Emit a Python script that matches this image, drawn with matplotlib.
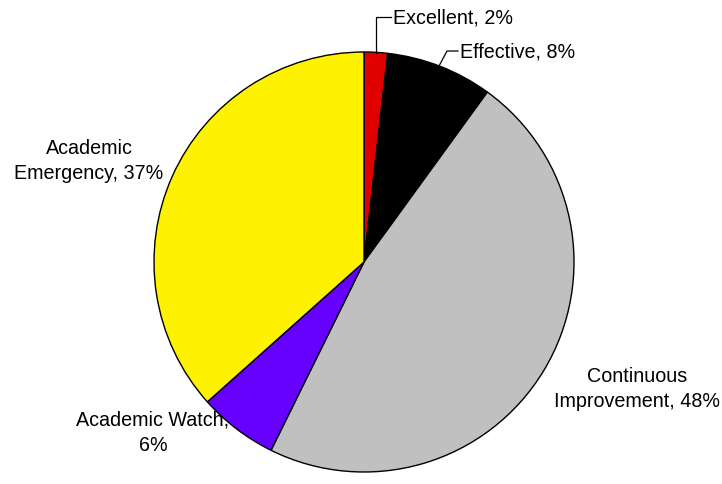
import matplotlib.pyplot as plt

labels = ["Excellent, 2%", "Effective, 8%", "Continuous\nImprovement, 48%",
          "Academic Watch,\n6%", "Academic\nEmergency, 37%"]
values = [1.8, 8.2, 47.3, 6.1, 36.6]
colors = ["#E00000", "#000000", "#C0C0C0", "#6600FF", "#FFF200"]

plt.rcParams["font.family"] = ["Liberation Sans", "DejaVu Sans"]

W, H = 722, 484
cx, cy, R = 364, 262, 210


def px(x, y):
    # pixel position -> data units (pie radius = 1)
    return (x - cx) / R, (cy - y) / R


fig = plt.figure(figsize=(W / 100, H / 100), dpi=100)
ax = fig.add_axes([0, 0, 1, 1])
ax.pie(values, colors=colors, startangle=90, counterclock=False, radius=1,
       wedgeprops=dict(edgecolor="black", linewidth=1))
ax.set_xlim(-cx / R, (W - cx) / R)
ax.set_ylim(-(H - cy) / R, cy / R)
ax.axis("off")

fs = 14.2
# leader lines for the two small slices
x0, y0 = px(376, 53)
x1, y1 = px(376, 17)
x2, y2 = px(391, 17)
ax.plot([x0, x1, x2], [y0, y1, y2], color="black", lw=0.9)
ax.text(*px(393, 18), labels[0], fontsize=fs, ha="left", va="center")

x0, y0 = px(439, 66)
x1, y1 = px(447, 51)
x2, y2 = px(458, 51)
ax.plot([x0, x1, x2], [y0, y1, y2], color="black", lw=0.9)
ax.text(*px(460, 52), labels[1], fontsize=fs, ha="left", va="center")

ax.text(*px(637, 389), labels[2], fontsize=fs, ha="center", va="center",
        linespacing=1.4)
ax.text(*px(153, 433), labels[3], fontsize=fs, ha="center", va="center",
        linespacing=1.4)
ax.text(*px(89, 161), labels[4], fontsize=fs, ha="center", va="center",
        linespacing=1.4)

fig.savefig("out.png", dpi=100)
